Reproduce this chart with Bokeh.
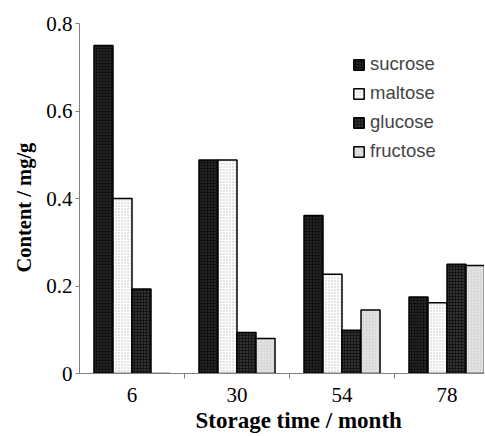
from bokeh.plotting import figure
from bokeh.models import Range1d, FixedTicker, Title, Legend, LegendItem
from bokeh.embed import file_html
from bokeh.resources import INLINE

categories = ["6", "30", "54", "78"]
sucrose = [0.75, 0.488, 0.361, 0.175]
maltose = [0.40, 0.488, 0.227, 0.162]
glucose = [0.193, 0.094, 0.099, 0.250]
fructose = [0.0, 0.080, 0.145, 0.247]
series_names = ["sucrose", "maltose", "glucose", "fructose"]
y_ticks = [0, 0.2, 0.4, 0.6, 0.8]
y_tick_labels = ["0", "0.2", "0.4", "0.6", "0.8"]

p = figure(width=484, height=436, output_backend="svg", toolbar_location=None,
           x_range=Range1d(0, 3.857), y_range=Range1d(0, 0.8),
           min_border_left=79, min_border_right=0, min_border_top=23, min_border_bottom=63)
p.outline_line_color = None
p.xgrid.visible = False
p.ygrid.visible = False

styles = [
    dict(fill_color="#111111", hatch_pattern="dot", hatch_color="#444444", hatch_scale=3),
    dict(fill_color="#ffffff", hatch_pattern="dot", hatch_color="#bbbbbb", hatch_scale=3),
    dict(fill_color="#333333", hatch_pattern="cross", hatch_color="#151515", hatch_scale=3),
    dict(fill_color="#d8d8d8", hatch_pattern="dot", hatch_color="#f4f4f4", hatch_scale=3),
]
bar_w = 0.181
idx = list(range(len(categories)))
items = []
for k, (name, vals) in enumerate(zip(series_names, [sucrose, maltose, glucose, fructose])):
    xs = [i + 0.5 + (k - 1.5) * bar_w for i in idx]
    r = p.vbar(x=xs, top=vals, bottom=0, width=bar_w, line_color="black", line_width=1.5,
               hatch_weight=1, **styles[k])
    items.append(LegendItem(label=name, renderers=[r]))

legend = Legend(items=items, location=(273, 211), glyph_width=13, glyph_height=13,
                label_text_font="Liberation Sans", label_text_font_size="18.5px",
                label_standoff=5, spacing=7, padding=0, margin=0,
                border_line_color=None, background_fill_alpha=0, label_height=21)
p.add_layout(legend, "center")

# x axis
p.xaxis.ticker = FixedTicker(ticks=[i + 0.5 for i in idx], minor_ticks=[1, 2, 3])
p.xaxis.major_label_overrides = {i + 0.5: c for i, c in zip(idx, categories)}
p.xaxis.major_tick_out = 0
p.xaxis.major_tick_in = 0
p.xaxis.minor_tick_out = 5
p.xaxis.minor_tick_in = 0
p.xaxis.minor_tick_line_color = "#808080"
p.xaxis.axis_line_color = "#808080"
p.xaxis.major_label_standoff = 9
p.xaxis.major_label_text_font = "Liberation Serif"
p.xaxis.major_label_text_font_size = "21px"
p.xaxis.major_label_text_color = "black"

# y axis
p.yaxis.ticker = FixedTicker(ticks=y_ticks, minor_ticks=[])
p.yaxis.major_label_overrides = {t: l for t, l in zip(y_ticks, y_tick_labels)}
p.yaxis.major_tick_out = 4
p.yaxis.major_tick_in = 0
p.yaxis.major_tick_line_color = "#808080"
p.yaxis.axis_line_color = "#808080"
p.yaxis.major_label_standoff = 3
p.yaxis.major_label_text_font = "Liberation Serif"
p.yaxis.major_label_text_font_size = "21px"
p.yaxis.major_label_text_color = "black"

p.add_layout(Title(text="Storage time / month", align="left", offset=116, standoff=3,
                   text_font="Liberation Serif", text_font_size="23px", text_font_style="bold",
                   text_color="black"), "below")
p.add_layout(Title(text="Content / mg/g", align="left", offset=101, standoff=13,
                   vertical_align="top",
                   text_font="Liberation Serif", text_font_size="20.5px", text_font_style="bold",
                   text_color="black"), "left")

open("out.html", "w").write(file_html(p, INLINE))
